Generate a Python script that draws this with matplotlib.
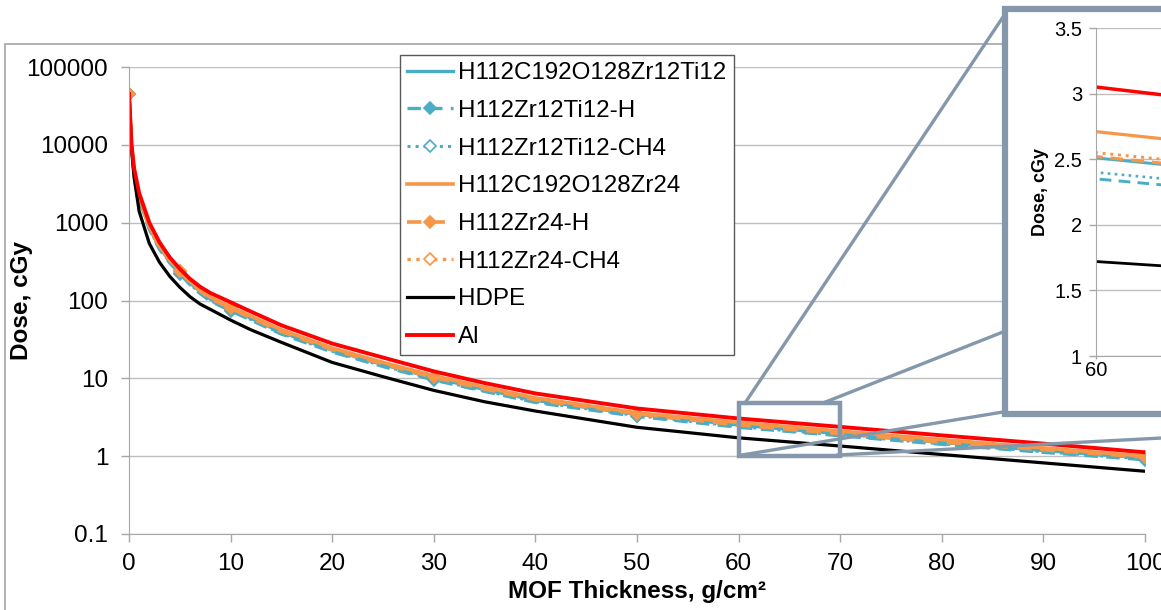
import matplotlib
matplotlib.use('Agg')
import matplotlib.pyplot as plt
from matplotlib.patches import Rectangle
from matplotlib.lines import Line2D
from matplotlib.ticker import NullLocator

plt.rcParams['font.family'] = ['Liberation Sans', 'DejaVu Sans']

# ---- data ----
thickness = [0, 0.25, 0.5, 1, 2, 3, 4, 5, 6, 7, 8, 10, 12, 15, 20, 25, 30, 35, 40, 50, 60, 70, 80, 90, 100]

ti12     = [45000, 9200, 4400, 2100, 860, 480, 320, 232, 168, 130, 104, 78, 59, 39, 23.0, 15.0, 10.1, 7.2, 5.2, 3.45, 2.51, 1.94, 1.50, 1.18, 0.95]
ti12_h   = [45000, 9000, 4250, 2000, 820, 455, 305, 220, 160, 123, 98, 74, 56, 37, 21.8, 14.2, 9.5, 6.8, 4.9, 3.25, 2.35, 1.83, 1.42, 1.12, 0.90]
ti12_ch4 = [45000, 9100, 4300, 2040, 835, 465, 310, 225, 163, 125, 100, 75, 57, 37.5, 22.2, 14.5, 9.7, 6.9, 5.0, 3.32, 2.40, 1.86, 1.44, 1.14, 0.92]
zr24     = [45000, 9500, 4600, 2200, 900, 500, 335, 238, 176, 137, 110, 83, 63, 42, 24.5, 16.0, 10.8, 7.7, 5.6, 3.60, 2.71, 2.10, 1.63, 1.28, 1.00]
zr24_h   = [45000, 9300, 4500, 2150, 880, 490, 330, 240, 172, 133, 106, 80, 60, 40, 23.5, 15.3, 10.3, 7.3, 5.3, 3.50, 2.52, 1.95, 1.52, 1.21, 0.97]
zr24_ch4 = [45000, 9350, 4520, 2160, 885, 493, 332, 241, 173, 134, 107, 81, 61, 40.5, 23.8, 15.5, 10.4, 7.4, 5.35, 3.53, 2.55, 1.98, 1.54, 1.23, 0.98]
hdpe     = [45000, 9000, 3800, 1400, 540, 310, 205, 148, 112, 90, 77, 56, 42, 29, 16.0, 10.5, 7.0, 5.0, 3.8, 2.35, 1.72, 1.35, 1.05, 0.82, 0.64]
al       = [45000, 10000, 5000, 2400, 1000, 560, 360, 255, 190, 150, 125, 95, 72, 48, 28.0, 18.5, 12.3, 8.7, 6.4, 4.10, 3.05, 2.38, 1.85, 1.45, 1.12]

labels = ['H112C192O128Zr12Ti12', 'H112Zr12Ti12-H', 'H112Zr12Ti12-CH4',
          'H112C192O128Zr24', 'H112Zr24-H', 'H112Zr24-CH4', 'HDPE', 'Al']
ytick_vals = [0.1, 1, 10, 100, 1000, 10000, 100000]
ytick_labels = ['0.1', '1', '10', '100', '1000', '10000', '100000']
inset_yticks = [1, 1.5, 2, 2.5, 3, 3.5]
inset_ylabels = ['1', '1.5', '2', '2.5', '3', '3.5']

blue = '#4bacc6'
orange = '#f79646'
frame_c = '#8497ab'
mark_idx = [0, 7, 11, 16, 19, 24]

# values, colour, linestyle, marker, marker face, line width, zorder
series = [
    (ti12, blue, '-', None, None, 2.4, 2.0),
    (ti12_h, blue, (0, (4, 2.5)), 'D', blue, 2.4, 2.0),
    (ti12_ch4, blue, ':', 'D', 'white', 2.2, 1.8),
    (zr24, orange, '-', None, None, 2.6, 2.0),
    (zr24_h, orange, (0, (4, 2.5)), 'D', orange, 2.6, 2.1),
    (zr24_ch4, orange, ':', 'D', 'white', 2.4, 1.9),
    (hdpe, 'black', '-', None, None, 2.3, 2.2),
    (al, 'red', '-', None, None, 2.8, 2.3),
]

W, H = 1161, 610
fig = plt.figure(figsize=(W / 100, H / 100), dpi=100)

def fx(px):
    return px / W

def fy(py):
    return 1 - py / H

ax = fig.add_axes([fx(129), fy(534), fx(1145) - fx(129), fy(67) - fy(534)])
for (vals, c, ls, mk, mfc, lw, z), lab in zip(series, labels):
    if mk:
        ax.plot(thickness, vals, color=c, ls=ls, lw=lw, marker=mk, markevery=mark_idx,
                ms=6.5, mfc=mfc, mec=c, mew=1.2, label=lab, zorder=z)
    else:
        ax.plot(thickness, vals, color=c, ls=ls, lw=lw, label=lab, zorder=z)

ax.set_yscale('log')
ax.set_xlim(0, 100)
ax.set_ylim(0.1, 100000)
ax.set_yticks(ytick_vals)
ax.set_yticklabels(ytick_labels)
ax.yaxis.set_minor_locator(NullLocator())
ax.set_xticks(range(0, 101, 10))
ax.grid(axis='y', color='#bfbfbf', lw=1)
ax.set_axisbelow(True)
for s in ['top', 'right']:
    ax.spines[s].set_visible(False)
for s in ['left', 'bottom']:
    ax.spines[s].set_color('#a6a6a6')
ax.tick_params(axis='both', colors='#a6a6a6', labelcolor='black', labelsize=17.5, length=6, width=1)
ax.tick_params(axis='y', pad=9)
ax.tick_params(axis='x', pad=8)
ax.set_xlabel('MOF Thickness, g/cm²', fontsize=17.5, fontweight='bold', labelpad=3)
ax.set_ylabel('Dose, cGy', fontsize=17.5, fontweight='bold')
ax.yaxis.set_label_coords((33 - 129) / 1016, 0.5)

leg = ax.legend(loc='upper left', bbox_to_anchor=(fx(400), fy(55)), bbox_transform=fig.transFigure,
                fancybox=False, framealpha=1, edgecolor='#595959', fontsize=17.4,
                handlelength=1.88, handletextpad=0.22, labelspacing=0.65, borderpad=0.3,
                borderaxespad=0)
leg.get_frame().set_linewidth(1.0)

# zoom box on the main chart
ax.add_patch(Rectangle((60, 1.0), 10, 3.8, fill=False, ec=frame_c, lw=3.2, zorder=5))

# outer chart border
fig.add_artist(Rectangle((fx(5), -0.1), 1.2, fy(44) + 0.1, transform=fig.transFigure,
                         fill=False, ec='#a6a6a6', lw=1.2, zorder=1))

# connector lines
for (x1, y1), (x2, y2) in [((745, 403), (1003, 17)), ((823, 403), (1003, 332)),
                           ((742, 455), (1003, 412)), ((838, 455), (1600, 415))]:
    fig.add_artist(Line2D([fx(x1), fx(x2)], [fy(y1), fy(y2)], transform=fig.transFigure,
                          color=frame_c, lw=2.4, zorder=1.5))

# inset frame
fig.add_artist(Rectangle((fx(1005), fy(414)), fx(1950) - fx(1005), fy(9) - fy(414),
                         transform=fig.transFigure, fc='white', ec=frame_c, lw=4.5, zorder=2))

# inset axes
ax2 = fig.add_axes([fx(1096), fy(356), fx(1846) - fx(1096), fy(28) - fy(356)])
ax2.set_zorder(3)
for (vals, c, ls, mk, mfc, lw, z), lab in zip(series, labels):
    ax2.plot(thickness, vals, color=c, ls=ls, lw=lw - 0.3, zorder=z)
ax2.set_xlim(60, 70)
ax2.set_ylim(1, 3.5)
ax2.set_yticks(inset_yticks)
ax2.set_yticklabels(inset_ylabels)
ax2.set_xticks(range(60, 71))
ax2.grid(axis='y', color='#bfbfbf', lw=1)
ax2.set_axisbelow(True)
for s in ['top', 'right']:
    ax2.spines[s].set_visible(False)
for s in ['left', 'bottom']:
    ax2.spines[s].set_color('#a6a6a6')
ax2.tick_params(axis='both', colors='#a6a6a6', labelcolor='black', labelsize=14.5, width=1)
ax2.tick_params(axis='y', length=5, pad=5)
ax2.tick_params(axis='x', length=2, pad=1.5)
ax2.set_ylabel('Dose, cGy', fontsize=13, fontweight='bold', labelpad=4)

fig.savefig('out.png', dpi=100)
